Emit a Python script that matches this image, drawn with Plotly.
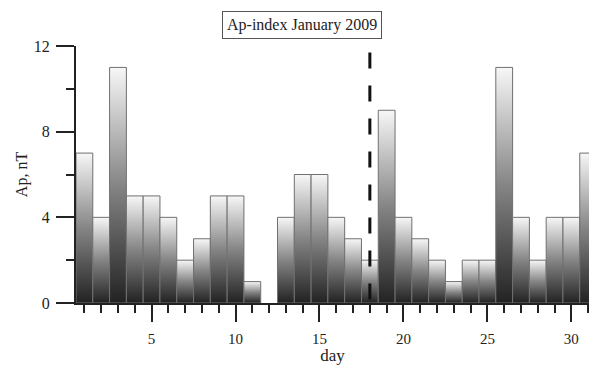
import plotly.graph_objects as go

days = list(range(1, 32))
ap_values = [7, 4, 11, 5, 5, 4, 2, 3, 5, 5, 1, 0, 4, 6, 6, 4, 3, 2, 9, 4, 3, 2, 1, 2, 2, 11, 4, 2, 4, 4, 7]
marker_day = 18
marker_top = 11.7
title_text = "Ap-index January 2009"
x_major_ticks = [5, 10, 15, 20, 25, 30]
y_major_ticks = [0, 4, 8, 12]

FONT = "Liberation Serif"
fig = go.Figure()

for d, v in zip(days, ap_values):
    if v <= 0:
        continue
    xs = [d - 0.5, d - 0.5, d + 0.5, d + 0.5, d - 0.5]
    ys = [0, v, v, 0, 0]
    fig.add_trace(go.Scatter(
        x=xs, y=ys, mode="lines", fill="toself",
        line=dict(color="#707070", width=1),
        fillgradient=dict(type="vertical",
                          colorscale=[[0, "#222222"], [0.5, "#858585"], [1, "#f7f7f7"]]),
        hoverinfo="skip", showlegend=False,
    ))

fig.add_shape(type="line", x0=marker_day, x1=marker_day, y0=marker_top, y1=0,
              xref="x", yref="y", line=dict(color="#111", width=3, dash="16px,17px"))

fig.add_annotation(text=title_text, xref="paper", yref="paper", x=0.44, y=1.082,
                   xanchor="center", yanchor="middle", showarrow=False,
                   font=dict(family=FONT, size=16, color="#222"),
                   bordercolor="#555", borderwidth=1, borderpad=4, bgcolor="white")

fig.update_layout(
    width=589, height=365,
    margin=dict(l=76, r=0, t=46, b=62, autoexpand=False),
    plot_bgcolor="white", paper_bgcolor="white",
    font=dict(family=FONT, size=15, color="#222"),
    xaxis=dict(range=[0.5, 31.05], showgrid=False, zeroline=False,
               showline=True, linecolor="#222", linewidth=2,
               tickmode="array", tickvals=x_major_ticks,
               ticks="outside", ticklen=17, tickwidth=2, tickcolor="#222",
               minor=dict(dtick=1, tick0=0, ticks="outside", ticklen=8, tickwidth=2, tickcolor="#222"),
               ticklabelstandoff=4,
               title=dict(text="day", standoff=6, font=dict(family=FONT, size=17)),
               tickfont=dict(family=FONT, size=15)),
    yaxis=dict(range=[0, 12], showgrid=False, zeroline=False,
               showline=True, linecolor="#222", linewidth=2,
               tickmode="array", tickvals=y_major_ticks,
               ticks="outside", ticklen=18, tickwidth=2, tickcolor="#222",
               minor=dict(dtick=2, tick0=0, ticks="outside", ticklen=8, tickwidth=2, tickcolor="#222"),
               ticklabelstandoff=3,
               title=dict(text="Ap, nT", standoff=2, font=dict(family=FONT, size=16)),
               tickfont=dict(family=FONT, size=16)),
)

fig.write_html("out.html", config={"displayModeBar": False},
               post_script="document.body.style.margin='0';document.body.style.overflow='hidden';")
